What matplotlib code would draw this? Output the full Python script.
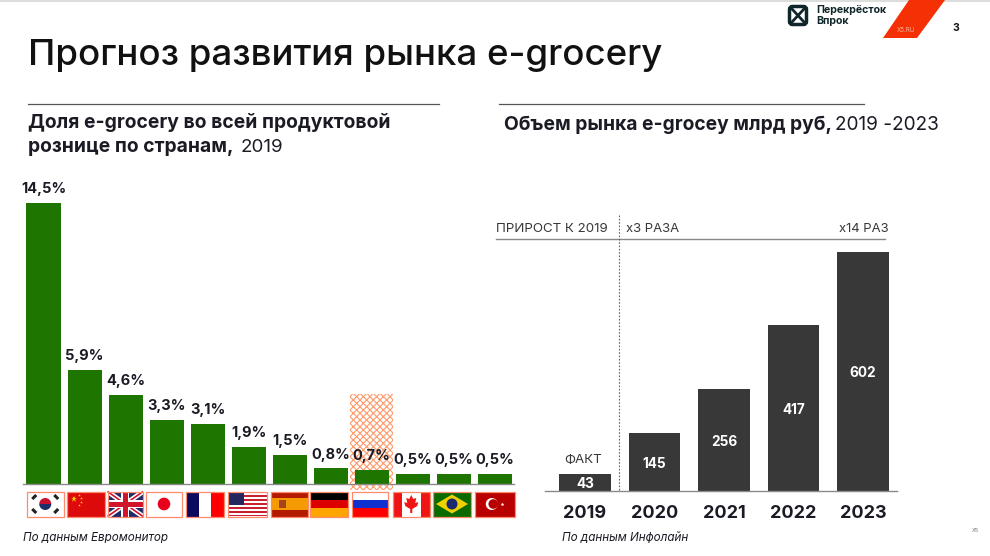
import matplotlib
matplotlib.use("Agg")
import matplotlib.pyplot as plt
from matplotlib.patches import Rectangle, Polygon, Circle, Wedge, FancyBboxPatch

plt.rcParams['font.family'] = ['Inter', 'DejaVu Sans']

# --- Dados ---
paises = ["kr", "cn", "gb", "jp", "fr", "us", "es", "de", "ru", "ca", "br", "tr"]
doli = [14.5, 5.9, 4.6, 3.3, 3.1, 1.9, 1.5, 0.8, 0.7, 0.5, 0.5, 0.5]
rotulos_doli = ["14,5%", "5,9%", "4,6%", "3,3%", "3,1%", "1,9%", "1,5%", "0,8%", "0,7%", "0,5%", "0,5%", "0,5%"]
anos = ["2019", "2020", "2021", "2022", "2023"]
volume = [43, 145, 256, 417, 602]

VERDE = "#1e7600"
ESCURO = "#383838"
TEXTO = "#1b1b25"
W, H = 990, 556

fig = plt.figure(figsize=(W / 100, H / 100), dpi=100)

# camada em pixels para textos e enfeites
px = fig.add_axes([0, 0, 1, 1], zorder=0)
px.set_xlim(0, W)
px.set_ylim(H, 0)
px.axis("off")


def eixo_px(x0, x1, y_topo, y_base):
    return fig.add_axes([x0 / W, 1 - y_base / H, (x1 - x0) / W, (y_base - y_topo) / H], zorder=1, facecolor="none")


# --- Cabecalho ---
px.add_patch(Rectangle((0, 0), W, 1.5, color="#dddddd", lw=0))
px.text(28, 55, "Прогноз развития рынка e-grocery", fontsize=26.4, color="#111111", va="center", fontweight="medium")
px.plot([28, 439], [104, 104], color="#555555", lw=0.9)
px.plot([499, 864], [104, 104], color="#555555", lw=0.9)
px.text(28, 123, "Доля e-grocery во всей продуктовой", fontsize=13.9, fontweight="bold", va="center", color=TEXTO)
px.text(28, 147, "рознице по странам,", fontsize=13.9, fontweight="bold", va="center", color=TEXTO)
px.text(241, 147, "2019", fontsize=13.5, va="center", color=TEXTO)
px.text(504, 125, "Объем рынка e-grocey млрд руб,", fontsize=13.85, fontweight="bold", va="center", color=TEXTO)
px.text(835, 125, "2019 -2023", fontsize=13.7, va="center", color=TEXTO)

# logo
px.add_patch(FancyBboxPatch((791, 8), 14, 15, boxstyle="round,pad=1.5,rounding_size=3", fc="white", ec="#10262b", lw=2.5))
px.plot([792, 804], [9, 22], color="#10262b", lw=2)
px.plot([792, 804], [22, 9], color="#10262b", lw=2)
px.text(816, 9.5, "Перекрёсток", fontsize=7.6, fontweight="bold", va="center", color="#10262b")
px.text(816, 21, "Впрок", fontsize=7.6, fontweight="bold", va="center", color="#10262b")
px.add_patch(Polygon([(909, 0), (945, 0), (917, 38), (883, 38)], color="#f53005", lw=0))
px.text(906, 30, "X5.RU", fontsize=4.5, color="#ffb09c", ha="center", va="center")
px.text(956, 28, "3", fontsize=7.5, fontweight="bold", color="#111111", ha="center", va="center")
px.text(975, 531, "X5", fontsize=4, color="#667788", ha="center", va="center")

# --- Grafico esquerdo ---
ax1 = eixo_px(23, 514, 190, 484)
pos = list(range(len(doli)))
ax1.set_xlim(-(43.75 - 23) / 41, (514 - 43.75) / 41)
ax1.set_ylim(0, 294 / 19.4)
plt.rcParams['hatch.linewidth'] = 0.8
ax1.bar(8, 4.95, bottom=-0.31, width=43 / 41, facecolor="white", edgecolor="#ff9a6b",
        hatch="xxxxx", lw=0, clip_on=False, zorder=1)
ax1.bar(pos, doli, width=34.5 / 41, color=VERDE, zorder=2)
for x, v, r in zip(pos, doli, rotulos_doli):
    ax1.annotate(r, (x, v), xytext=(0, 5), textcoords="offset points", ha="center", va="bottom",
                 fontsize=10.5, fontweight="bold", color=TEXTO, zorder=3)
for s in ["top", "left", "right"]:
    ax1.spines[s].set_visible(False)
ax1.spines["bottom"].set_color("#8a8a8a")
ax1.spines["bottom"].set_linewidth(1)
ax1.set_xticks([])
ax1.set_yticks([])


# --- Bandeiras ---
def ret(x, y, w, h, c):
    px.add_patch(Rectangle((x, y), w, h, fc=c, ec="none", zorder=2))


def faixas_v(x, y, w, h, cores, pesos=None):
    pesos = pesos or [1] * len(cores)
    t = sum(pesos)
    a = x
    for c, p in zip(cores, pesos):
        ret(a, y, w * p / t, h, c)
        a += w * p / t


def faixas_h(x, y, w, h, cores, pesos=None):
    pesos = pesos or [1] * len(cores)
    t = sum(pesos)
    a = y
    for c, p in zip(cores, pesos):
        ret(x, a, w, h * p / t, c)
        a += h * p / t


def bandeira(cod, x, y, w, h):
    cx, cy = x + w / 2, y + h / 2
    if cod == "kr":
        ret(x, y, w, h, "white")
        px.add_patch(Wedge((cx, cy), 6, 180, 360, fc="#c8102e", zorder=3))
        px.add_patch(Wedge((cx, cy), 6, 0, 180, fc="#1c2f66", zorder=3))
        for dx, dy in [(-11, -7), (11, -7), (-11, 7), (11, 7)]:
            px.plot([cx + dx - 2, cx + dx + 2], [cy + dy + (2 if dx * dy > 0 else -2), cy + dy - (2 if dx * dy > 0 else -2)],
                    color="#222222", lw=2.2, zorder=3, solid_capstyle="butt")
    elif cod == "cn":
        ret(x, y, w, h, "#dc0a0a")
        px.plot([x + 7], [y + 7], marker="*", ms=4.5, mew=0, color="#ffd400", zorder=3)
        for dx, dy in [(12, 3), (14, 6), (14, 10), (12, 13)]:
            px.plot([x + dx], [y + dy], marker="*", ms=2, mew=0, color="#ffd400", zorder=3)
    elif cod == "gb":
        ret(x, y, w, h, "#1f2a6d")
        px.plot([x, x + w], [y, y + h], color="white", lw=3.5, zorder=3, solid_capstyle="butt")
        px.plot([x, x + w], [y + h, y], color="white", lw=3.5, zorder=3, solid_capstyle="butt")
        px.plot([x, x + w], [y, y + h], color="#d0142c", lw=1.2, zorder=3, solid_capstyle="butt")
        px.plot([x, x + w], [y + h, y], color="#d0142c", lw=1.2, zorder=3, solid_capstyle="butt")
        px.add_patch(Rectangle((cx - 4, y), 8, h, fc="white", ec="none", zorder=3))
        px.add_patch(Rectangle((x, cy - 4), w, 8, fc="white", ec="none", zorder=3))
        px.add_patch(Rectangle((cx - 2.5, y), 5, h, fc="#d0142c", ec="none", zorder=3))
        px.add_patch(Rectangle((x, cy - 2.5), w, 5, fc="#d0142c", ec="none", zorder=3))
    elif cod == "jp":
        ret(x, y, w, h, "white")
        px.add_patch(Circle((cx, cy), 6.3, fc="#e8001c", zorder=3))
    elif cod == "fr":
        faixas_v(x, y, w, h, ["#0a0a5e", "white", "#ff0000"])
    elif cod == "us":
        faixas_h(x, y, w, h, ["#c8202f", "white"] * 6 + ["#c8202f"])
        px.add_patch(Rectangle((x, y), w * 0.42, h * 7 / 13, fc="#23265f", ec="none", zorder=3))
    elif cod == "es":
        faixas_h(x, y, w, h, ["#b31a00", "#f59a00", "#b31a00"], [1, 2, 1])
        px.add_patch(Rectangle((x + 8, cy - 4), 7, 8, fc="#a5451f", ec="none", zorder=3))
    elif cod == "de":
        faixas_h(x, y, w, h, ["#000000", "#dd0000", "#ffa500"])
    elif cod == "ru":
        faixas_h(x, y, w, h, ["white", "#1030d0", "#ff0000"])
    elif cod == "ca":
        faixas_v(x, y, w, h, ["#f01414", "white", "#f01414"], [1, 2, 1])
        px.add_patch(Polygon([(cx, cy - 9), (cx + 2, cy - 5), (cx + 5, cy - 6), (cx + 4, cy - 1), (cx + 7, cy - 2),
                              (cx + 6, cy + 2), (cx + 1, cy + 5), (cx + 1, cy + 9), (cx - 1, cy + 9), (cx - 1, cy + 5),
                              (cx - 6, cy + 2), (cx - 7, cy - 2), (cx - 4, cy - 1), (cx - 5, cy - 6), (cx - 2, cy - 5)],
                             fc="#f01414", ec="none", zorder=3))
    elif cod == "br":
        ret(x, y, w, h, "#0b6b00")
        px.add_patch(Polygon([(x + 3, cy), (cx, y + 3), (x + w - 3, cy), (cx, y + h - 3)], fc="#f0d000", ec="none", zorder=3))
        px.add_patch(Circle((cx, cy), 5.5, fc="#1a2a6c", zorder=3))
    elif cod == "tr":
        ret(x, y, w, h, "#b80000")
        px.add_patch(Circle((cx - 3, cy), 6, fc="white", zorder=3))
        px.add_patch(Circle((cx - 1.5, cy), 4.8, fc="#b80000", zorder=3))
        px.plot([cx + 7], [cy], marker="*", ms=3, mew=0, color="white", zorder=3)
    px.add_patch(Rectangle((x, y), w, h, fc="none", ec="#ff8a6c", lw=0.9, zorder=4))


# limites das bandeiras
flag_x = [(27, 63.5), (67, 105), (107.5, 143), (146, 182), (186, 224), (228, 267),
          (271, 308), (310, 348), (352, 388), (392.5, 430), (433, 471), (475, 514.5)]
for cod, (xa, xb) in zip(paises, flag_x):
    bandeira(cod, xa, 491.5, xb - xa, 25)

px.text(23, 538, "По данным Евромонитор", fontsize=8.4, style="italic", va="center", color=TEXTO)

# --- Grafico direito ---
ax2 = eixo_px(545, 897, 240, 491)
ax2.set_xlim((545 - 585) / 69.5, (897 - 585) / 69.5)
ax2.set_ylim(0, 251 / 0.397)
pos2 = list(range(len(volume)))
ax2.bar(pos2, volume, width=51.5 / 69.5, color=ESCURO)
for x, v in zip(pos2, volume):
    ax2.annotate(str(v), (x, v / 2), xytext=(0, -1), textcoords="offset points", ha="center", va="center",
                 color="white", fontsize=9.8, fontweight="bold")
ax2.set_xticks(pos2)
ax2.set_xticklabels(anos, fontsize=13, fontweight="bold", color=TEXTO)
ax2.tick_params(axis="x", length=0, pad=10)
ax2.set_yticks([])
for s in ["top", "left", "right"]:
    ax2.spines[s].set_visible(False)
ax2.spines["bottom"].set_color("#8a8a8a")
ax2.spines["bottom"].set_linewidth(1)
ax2.text(-0.02, 43 + 8 / 0.397, "ФАКТ", ha="center", va="bottom", fontsize=9.6, color=ESCURO)

px.plot([496, 885], [239, 239], color="#888888", lw=1)
px.plot([619, 619], [215, 491], color="#666666", lw=0.8, ls=(0, (1.5, 1.5)))
px.text(496, 229, "ПРИРОСТ К 2019", fontsize=9.6, va="center", color=ESCURO)
px.text(626, 229, "x3 РАЗА", fontsize=9.4, va="center", color=ESCURO)
px.text(889, 229, "x14 РАЗ", fontsize=9.4, va="center", ha="right", color=ESCURO)
px.text(562, 538, "По данным Инфолайн", fontsize=8.4, style="italic", va="center", color=TEXTO)

fig.savefig("out.png", dpi=100)
